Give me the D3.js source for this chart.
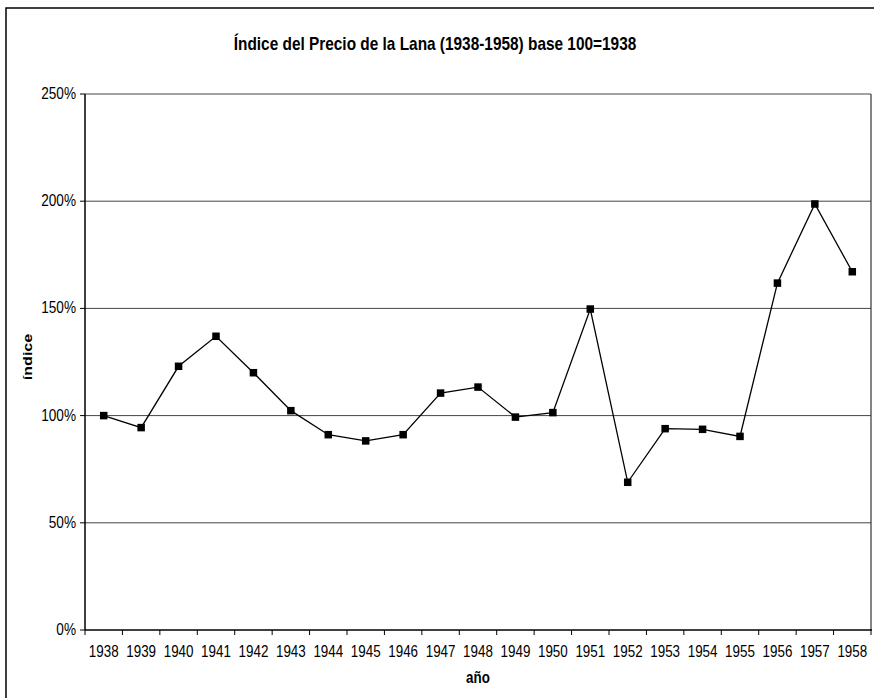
<!DOCTYPE html>
<html><head><meta charset="utf-8">
<script src="https://cdn.jsdelivr.net/npm/d3@7"></script>
<style>body{margin:0;background:#fff}svg{display:block;font-family:Arial,"Liberation Sans",sans-serif}</style>
</head><body><svg id="c" width="874" height="698"></svg>
<script>
const years = ["1938","1939","1940","1941","1942","1943","1944","1945","1946","1947","1948","1949","1950","1951","1952","1953","1954","1955","1956","1957","1958"];
const values = [100,94.4,123,137,120,102.3,91.1,88.2,91.1,110.5,113.3,99.3,101.4,149.7,68.9,93.9,93.6,90.3,161.8,198.7,167.1];
const yTicks = [0,50,100,150,200,250];
const title = "Índice del Precio de la Lana (1938-1958) base 100=1938";
const xTitle = "año";
const yTitle = "índice";

const svg = d3.select("#c");
const L=85,R=871,T=94,B=630, SY=1.2;
const x = d3.scaleBand().domain(years).range([L,R]);
const y = d3.scaleLinear().domain([0,250]).range([B,T]);

svg.append("rect").attr("x",6).attr("y",8).attr("width",900).attr("height",720)
  .attr("fill","#fff").attr("stroke","#000").attr("stroke-width",1.5);

svg.append("g").selectAll("line").data(yTicks.filter(d=>d>0)).join("line")
  .attr("x1",L).attr("x2",R).attr("y1",d=>y(d)).attr("y2",d=>y(d))
  .attr("stroke","#444").attr("stroke-width",1);
svg.append("line").attr("x1",R).attr("x2",R).attr("y1",T).attr("y2",B).attr("stroke","#333").attr("stroke-width",1.2);

svg.append("line").attr("x1",L).attr("x2",L).attr("y1",T).attr("y2",B).attr("stroke","#000").attr("stroke-width",1.5);
svg.append("line").attr("x1",L).attr("x2",R+1).attr("y1",B).attr("y2",B).attr("stroke","#000").attr("stroke-width",1.5);

const yt = svg.append("g");
yt.selectAll("line").data(yTicks).join("line")
  .attr("x1",L-5).attr("x2",L).attr("y1",d=>y(d)).attr("y2",d=>y(d)).attr("stroke","#000");
yt.selectAll("text").data(yTicks).join("text")
  .attr("transform",d=>`translate(76,${y(d)+5}) scale(1,${SY})`)
  .attr("text-anchor","end").attr("font-size",13.6).attr("fill","#000")
  .text(d=>d+"%");

const bounds = years.map(d=>x(d)).concat([x.range()[1]]);
svg.append("g").selectAll("line").data(bounds).join("line")
  .attr("x1",d=>d).attr("x2",d=>d).attr("y1",B).attr("y2",B+5).attr("stroke","#000");
svg.append("g").selectAll("text").data(years).join("text")
  .attr("transform",d=>`translate(${x(d)+x.bandwidth()/2},657) scale(1,${SY})`)
  .attr("text-anchor","middle").attr("font-size",13.4).attr("fill","#000")
  .text(d=>d);

svg.append("text").attr("transform",`translate(435,50) scale(1,${SY})`)
  .attr("text-anchor","middle").attr("font-size",15.4).attr("font-weight","bold").text(title);
svg.append("text").attr("transform",`translate(${(L+R)/2},683) scale(1,${SY})`)
  .attr("text-anchor","middle").attr("font-size",13.4).attr("font-weight","bold").text(xTitle);
svg.append("text").attr("transform",`translate(32,${(T+B)/2-5}) scale(1,${SY}) rotate(-90)`)
  .attr("text-anchor","middle").attr("font-size",13.4).attr("font-weight","bold").text(yTitle);

const cx = d=>x(d)+x.bandwidth()/2;
const line = d3.line().x((d,i)=>cx(years[i])).y(d=>y(d));
svg.append("path").datum(values).attr("d",line).attr("fill","none").attr("stroke","#000").attr("stroke-width",1.3);
svg.append("g").selectAll("rect").data(values).join("rect")
  .attr("x",(d,i)=>cx(years[i])-3.75).attr("y",d=>y(d)-3.75).attr("width",7.5).attr("height",7.5).attr("fill","#000");
</script></body></html>
